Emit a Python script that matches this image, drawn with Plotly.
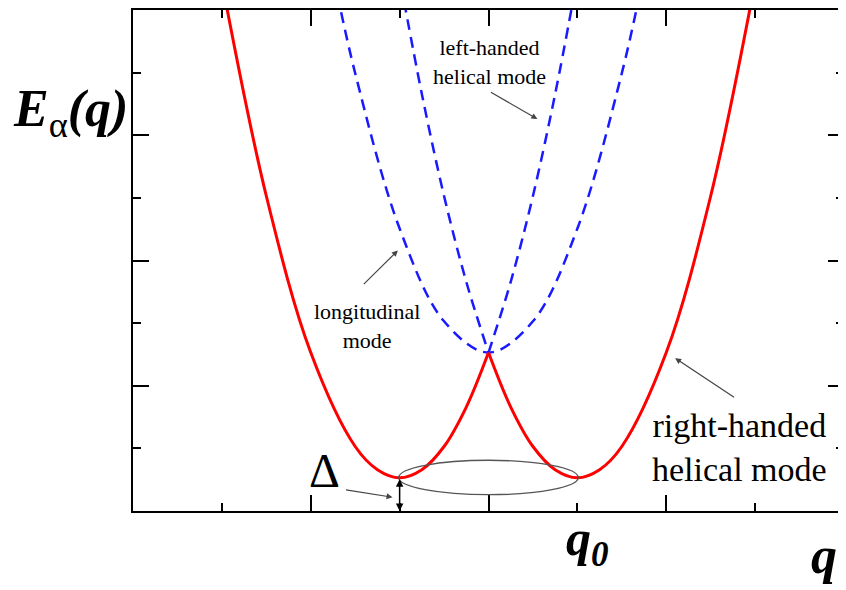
import plotly.graph_objects as go

SERIF = "Liberation Serif, Times New Roman, serif"
RED = "#ff0000"
BLUE = "#1a1aff"
GREY = "#444444"

# right-handed helical mode (solid red), two branches meeting at q = 0
q_rh_left = [-2.95, -2.5, -2.0, -1.5, -1.25, -1.0, -0.75, -0.5, -0.25, 0.0]
E_rh_left = [8.08, 5.03, 2.53, 1.03, 0.66, 0.53, 0.66, 1.03, 1.66, 2.53]
q_rh_right = [0.0, 0.25, 0.5, 0.75, 1.0, 1.25, 1.5, 2.0, 2.5, 2.95]
E_rh_right = [2.53, 1.66, 1.03, 0.66, 0.53, 0.66, 1.03, 2.53, 5.03, 8.08]

# left-handed helical mode (dashed blue), cusp at q = 0
q_lh_left = [-0.95, -0.75, -0.5, -0.25, 0.0]
E_lh_left = [8.14, 6.66, 5.03, 3.66, 2.53]
q_lh_right = [0.0, 0.25, 0.5, 0.75, 0.95]
E_lh_right = [2.53, 3.66, 5.03, 6.66, 8.14]

# longitudinal mode (dashed blue)
q_long = [-1.7, -1.5, -1.0, -0.5, 0.0, 0.5, 1.0, 1.5, 1.7]
E_long = [8.25, 6.99, 4.51, 3.03, 2.53, 3.03, 4.51, 6.99, 8.25]

gap = 0.53   # Delta
q0 = 1.0

fig = go.Figure()
for qs, es in [(q_long, E_long), (q_lh_left, E_lh_left), (q_lh_right, E_lh_right)]:
    fig.add_trace(go.Scatter(x=qs, y=es, mode="lines", line_shape="spline",
                             line=dict(color=BLUE, width=2.5, dash="11px,7px"),
                             showlegend=False, hoverinfo="skip"))
for qs, es in [(q_rh_left, E_rh_left), (q_rh_right, E_rh_right)]:
    fig.add_trace(go.Scatter(x=qs, y=es, mode="lines", line_shape="spline",
                             line=dict(color=RED, width=3),
                             showlegend=False, hoverinfo="skip"))

# ellipse around the two minima
fig.add_shape(type="circle", xref="x", yref="y", x0=-1.01, x1=1.01, y0=0.26, y1=0.81,
              line=dict(color="#555555", width=1.3), layer="above")

ax_common = dict(showgrid=False, zeroline=False, showticklabels=False,
                 showline=True, linecolor="black", linewidth=2, mirror="ticks",
                 ticks="inside", ticklen=16, tickwidth=2, tickcolor="black")
fig.update_xaxes(**ax_common)
fig.update_yaxes(**ax_common)
fig.update_xaxes(range=[-4, 4], tick0=0, dtick=2,
                 minor=dict(tick0=0, dtick=1, ticks="inside", ticklen=8,
                            tickwidth=2, tickcolor="black"))
fig.update_yaxes(range=[0, 8], tick0=0, dtick=2,
                 minor=dict(tick0=0, dtick=1, ticks="inside", ticklen=8,
                            tickwidth=2, tickcolor="black"))

def arrow(x, y, axv, ayv, color=GREY, width=1.2, side="end"):
    fig.add_annotation(x=x, y=y, ax=axv, ay=ayv, xref="x", yref="y", axref="x", ayref="y",
                       text="", showarrow=True, arrowhead=2, arrowsize=1,
                       arrowwidth=width, arrowcolor=color, arrowside=side)

def label(x, y, text, size, xref="x", yref="y", **kw):
    fig.add_annotation(x=x, y=y, xref=xref, yref=yref, text=text, showarrow=False,
                       font=dict(family=SERIF, size=size, color="black"), **kw)

label(0.01, 7.17, "left-handed<br>helical mode", 22)
arrow(0.55, 6.26, 0.01, 6.7)
label(-1.37, 2.96, "longitudinal<br>mode", 22)
arrow(-1.02, 4.16, -1.42, 3.6)
label(2.82, 1.02, "right-handed<br>helical mode", 34)
arrow(2.1, 2.44, 2.78, 1.8)

# Delta
arrow(-1.0, 0.0, -1.0, gap, color="black", width=1.5, side="end+start")
arrow(-1.08, 0.22, -1.62, 0.34)
label(-1.85, 0.65, "Δ", 48)

# axis labels
label(0, 0.865, "<b><i>E</i></b><sub>α</sub><b><i>(q)</i></b>", 52,
      xref="paper", yref="paper", xanchor="right", xshift=-3)
fig.add_annotation(x=q0, y=-0.13, xref="x", yref="paper", showarrow=False,
                   text="<b><i>q</i></b><sub><b><i>0</i></b></sub>", xshift=10,
                   font=dict(family=SERIF, size=50, color="black"))
label(3.78, -0.149, "<b><i>q</i></b>", 52, yref="paper")

# the page body adds an 8px margin, so the figure is sized to fit inside it
fig.update_layout(width=838, height=582, paper_bgcolor="white", plot_bgcolor="white",
                  margin=dict(l=125, r=0, t=1, b=79), showlegend=False)

fig.write_html("out.html")
